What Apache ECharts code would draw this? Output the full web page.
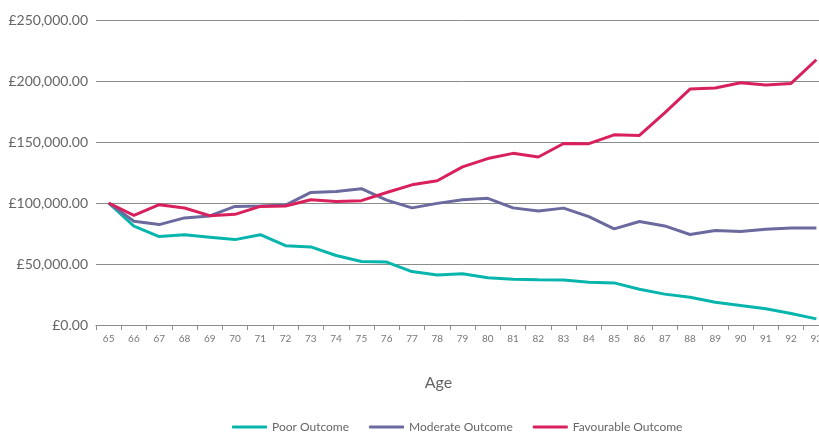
<!DOCTYPE html>
<html>
<head>
<meta charset="utf-8">
<script src="https://cdn.jsdelivr.net/npm/echarts@6/dist/echarts.min.js"></script>
<style>
html,body{margin:0;padding:0;background:#fff;overflow:hidden;}
#chart{width:840px;height:433px;}
</style>
</head>
<body>
<div id="chart"></div>
<script>
var ages = ['65','66','67','68','69','70','71','72','73','74','75','76','77','78','79','80','81','82','83','84','85','86','87','88','89','90','91','92','93'];
var poor = [100000,81000,72500,74000,72000,70000,74000,65000,64000,57000,52000,51600,43800,41000,42000,38800,37500,37000,36800,35000,34500,29300,25300,22800,18700,16000,13300,9500,5000];
var moderate = [100000,85000,82300,87800,89400,97200,97500,98300,108700,109500,111700,102400,96000,99700,102700,103800,96000,93500,95800,88800,78800,84800,81200,74200,77400,76600,78500,79600,79600];
var favourable = [100000,89900,98600,95900,89600,90700,97200,97500,102700,101300,101900,108600,114900,118200,129600,136400,140700,137700,148800,148600,155900,155400,173800,193400,194200,198600,196700,198000,217400];
var seriesNames = ['Poor Outcome','Moderate Outcome','Favourable Outcome'];
var colors = ['#08b5ad','#6a6a9f','#d8215c'];

function money(v){
	var s = v.toFixed(2).split('.');
	s[0] = s[0].replace(/\B(?=(\d{3})+(?!\d))/g, ',');
	return '£' + s[0] + '.' + s[1];
}

var chart = echarts.init(document.getElementById('chart'));
var option = {
	animation: false,
	color: colors,
	textStyle: {fontFamily: 'Lato'},
	grid: {left: 96, top: 20, width: 733, height: 305},
	legend: {
		top: 416,
		left: 227,
		icon: 'roundRect',
		itemWidth: 35,
		itemHeight: 3,
		itemGap: 20,
		textStyle: {color: '#666', fontSize: 12, fontFamily: 'Lato'},
		data: seriesNames
	},
	xAxis: {
		type: 'category',
		data: ages,
		boundaryGap: true,
		name: 'Age',
		nameLocation: 'middle',
		nameGap: 50,
		nameTextStyle: {color: '#666', fontSize: 16, fontFamily: 'Lato', padding: [0, 48, 0, 0]},
		axisLine: {lineStyle: {color: '#8c8c8c', width: 1}},
		axisTick: {show: true, length: 5, lineStyle: {color: '#8c8c8c'}},
		axisLabel: {color: '#777', fontSize: 10, margin: 9, interval: 0}
	},
	yAxis: {
		type: 'value',
		min: 0,
		max: 250000,
		interval: 50000,
		axisLine: {show: false},
		axisTick: {show: false},
		splitLine: {lineStyle: {color: '#8c8c8c', width: 1}},
		axisLabel: {color: '#666', fontSize: 14, margin: 8, formatter: money}
	},
	series: [
		{name: seriesNames[0], type: 'line', data: poor, symbol: 'none', lineStyle: {width: 3}},
		{name: seriesNames[1], type: 'line', data: moderate, symbol: 'none', lineStyle: {width: 3}},
		{name: seriesNames[2], type: 'line', data: favourable, symbol: 'none', lineStyle: {width: 3}}
	]
};
chart.setOption(option);
</script>
</body>
</html>
